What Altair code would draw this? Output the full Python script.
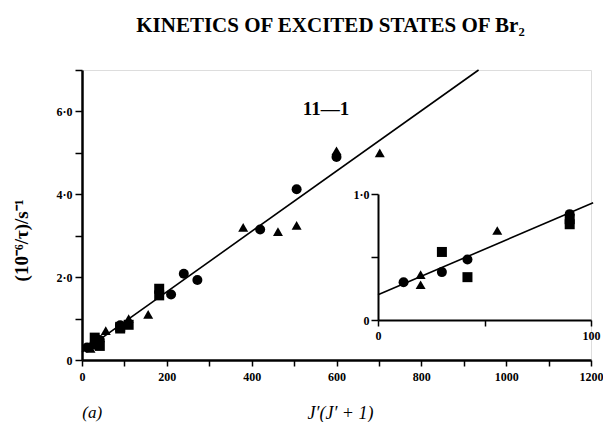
import altair as alt
import pandas as pd

# ---- data ----
circ_x = [12, 30, 42, 90, 210, 240, 272, 420, 506, 600]
circ_y = [0.30, 0.38, 0.48, 0.84, 1.58, 2.08, 1.93, 3.15, 4.12, 4.90]
sq_x = [30, 42, 90, 90, 110, 182, 182]
sq_y = [0.54, 0.34, 0.80, 0.76, 0.85, 1.72, 1.56]
tri_x = [20, 20, 56, 110, 156, 380, 462, 506, 600, 702]
tri_y = [0.36, 0.28, 0.71, 1.00, 1.10, 3.20, 3.10, 3.25, 5.05, 5.00]

main_line_x = [0, 935]
main_line_y = [0.19, 7.0]
inset_line_x = [0, 101]
inset_line_y = [0.20, 0.93]

x_ticks = list(range(0, 1201, 100))
y_ticks = [0, 1, 2, 3, 4, 5, 6, 7]
inset_x_ticks = [0, 50, 100]
inset_y_ticks = [0, 0.5, 1.0]

title_text = "KINETICS OF EXCITED STATES OF Br\u2082"
y_title = "(10\u207b\u2076/\u03c4)/s\u207b\u00b9"
x_title = "J\u2032(J\u2032 + 1)"
panel_label = "(a)"
band_label = "11\u20141"

# ---- tables ----
pts = pd.DataFrame({
    "x": circ_x + sq_x + tri_x,
    "y": circ_y + sq_y + tri_y,
    "sym": ["c"] * len(circ_x) + ["s"] * len(sq_x) + ["t"] * len(tri_x),
})
inset_pts = pts[pts["x"] <= 100].reset_index(drop=True)
main_line = pd.DataFrame({"x": main_line_x, "y": main_line_y})
inset_line = pd.DataFrame({"x": inset_line_x, "y": inset_line_y})
annot = pd.DataFrame({"x": [575, 24], "y": [6.05, -1.27], "t": [band_label, panel_label],
                      "kind": ["band", "panel"]})

FONT = "Liberation Serif"
W, H = 509, 290

shape = alt.Shape("sym:N", scale=alt.Scale(domain=["c", "s", "t"],
                                          range=["circle", "square", "triangle-up"]),
                  legend=None)

xs = alt.Scale(domain=[0, 1200], nice=False)
ys = alt.Scale(domain=[0, 7], nice=False)

x_axis = alt.Axis(values=x_ticks, format="d", labelFlush=False,
                  labelExpr="datum.value % 200 == 0 ? datum.label : ''",
                  title=x_title, titleFont=FONT, titleFontStyle="italic", titleFontWeight="normal",
                  titleFontSize=18, titleX=258, titleY=53, titleBaseline="middle",
                  labelFont=FONT, labelFontWeight="bold", labelFontSize=12, labelPadding=5,
                  tickSize=6, tickWidth=1.5, domainWidth=2.5, domainColor="black",
                  tickColor="black", labelColor="black", titleColor="black", grid=False)
y_axis = alt.Axis(values=y_ticks,
                  labelExpr="datum.value == 0 ? '0' : (datum.value % 2 == 0 ? format(datum.value, '.0f') + '\u00b70' : '')",
                  title=y_title, titleFont=FONT, titleFontWeight="bold", titleFontSize=19,
                  titleAngle=270, titleX=-61, titleY=170, titleAlign="center", titleBaseline="middle",
                  labelFont=FONT, labelFontWeight="bold", labelFontSize=12, labelPadding=3,
                  tickSize=7, tickWidth=1.5, domainWidth=2.5, domainColor="black",
                  tickColor="black", labelColor="black", titleColor="black", grid=False)

main_points = alt.Chart(pts).mark_point(filled=True, color="black", size=100, opacity=1).encode(
    x=alt.X("x:Q", scale=xs, axis=x_axis),
    y=alt.Y("y:Q", scale=ys, axis=y_axis),
    shape=shape,
)
main_ln = alt.Chart(main_line).mark_line(color="black", strokeWidth=1.6).encode(
    x=alt.X("x:Q", scale=xs), y=alt.Y("y:Q", scale=ys))
band_txt = alt.Chart(annot[annot.kind == "band"]).mark_text(
    font=FONT, fontSize=19, fontWeight="bold", color="black").encode(
    x=alt.X("x:Q", scale=xs), y=alt.Y("y:Q", scale=ys), text="t:N")
panel_txt = alt.Chart(annot[annot.kind == "panel"]).mark_text(
    font=FONT, fontSize=17, fontStyle="italic", color="black").encode(
    x=alt.X("x:Q", scale=xs), y=alt.Y("y:Q", scale=ys), text="t:N")

main = alt.layer(main_ln, main_points, band_txt, panel_txt)

ixs = alt.Scale(domain=[0, 100], range=[296, 509], nice=False)
iys = alt.Scale(domain=[0, 1], range=[250, 124], nice=False)

ix_axis = alt.Axis(values=inset_x_ticks, orient="bottom", offset=-40, title=None, labelFlush=False,
                   labelExpr="datum.value == 50 ? '' : datum.label",
                   labelFont=FONT, labelFontWeight="bold", labelFontSize=12, labelPadding=4,
                   tickSize=6, tickWidth=1.5, domainWidth=2, domainColor="black",
                   tickColor="black", labelColor="black", grid=False)
iy_axis = alt.Axis(values=inset_y_ticks, orient="left", offset=-296, title=None,
                   labelExpr="datum.value == 0 ? '0' : (datum.value == 1 ? '1\u00b70' : '')",
                   labelFont=FONT, labelFontWeight="bold", labelFontSize=12, labelPadding=2,
                   tickSize=7, tickWidth=1.5, domainWidth=2, domainColor="black",
                   tickColor="black", labelColor="black", grid=False)

inset_points = alt.Chart(inset_pts).mark_point(filled=True, color="black", size=100, opacity=1).encode(
    x=alt.X("x:Q", scale=ixs, axis=ix_axis),
    y=alt.Y("y:Q", scale=iys, axis=iy_axis),
    shape=shape,
)
inset_ln = alt.Chart(inset_line).mark_line(color="black", strokeWidth=1.6).encode(
    x=alt.X("x:Q", scale=ixs), y=alt.Y("y:Q", scale=iys))

inset = alt.layer(inset_ln, inset_points)

chart = alt.layer(main, inset).resolve_scale(x="independent", y="independent").properties(
    width=W, height=H,
    title=alt.TitleParams(title_text, font=FONT, fontSize=21, fontWeight="bold",
                          color="black", anchor="middle", dx=-6, offset=31),
    autosize=alt.AutoSizeParams(type="none"),
    padding={"left": 74, "top": 62, "right": 12, "bottom": 62},
).configure_view(stroke=None).configure(background="white")

chart.save("out.html", embed_options={"renderer": "svg", "actions": False})
